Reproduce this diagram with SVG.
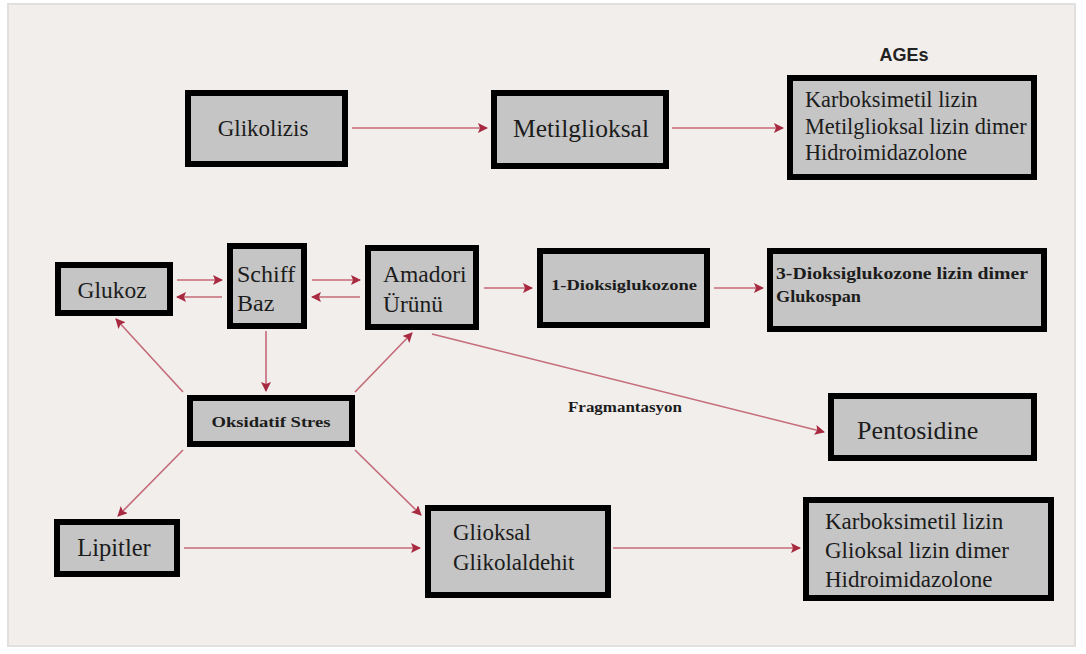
<svg xmlns="http://www.w3.org/2000/svg" width="1086" height="654" viewBox="0 0 1086 654">
<defs>
<marker id="ah" viewBox="0 0 10 10" refX="9" refY="5" markerWidth="10" markerHeight="10" markerUnits="userSpaceOnUse" orient="auto">
<path d="M0,0 L10,5 L0,10 L2,5 z" fill="#a82a40"/>
</marker>
<style>
.box{fill:#c5c5c5;stroke:#000;stroke-width:6}
.t{font-family:'Liberation Serif','Times New Roman',serif;font-weight:normal;fill:#1c1c1c}
.b{font-family:'Liberation Serif','Times New Roman',serif;font-weight:bold;fill:#1c1c1c}
.c{stroke:#c46a78;stroke-width:1.6;fill:none;marker-end:url(#ah)}
</style>
</defs>
<rect x="0" y="0" width="1086" height="654" fill="#ffffff"/>
<rect x="8" y="4" width="1067" height="642" fill="#f1eeec" stroke="#e2e0de" stroke-width="2"/>
<text x="904" y="61" font-family="Liberation Sans, sans-serif" font-weight="bold" font-size="18" fill="#222" text-anchor="middle">AGEs</text>

<g id="connectors">
<line class="c" x1="352" y1="128" x2="487" y2="128"/>
<line class="c" x1="672" y1="128" x2="783" y2="128"/>
<line class="c" x1="177" y1="280" x2="222" y2="280"/>
<line class="c" x1="222" y1="297" x2="177" y2="297"/>
<line class="c" x1="312" y1="280" x2="360" y2="280"/>
<line class="c" x1="360" y1="297" x2="312" y2="297"/>
<line class="c" x1="484" y1="288" x2="532" y2="288"/>
<line class="c" x1="714" y1="288" x2="763" y2="288"/>
<line class="c" x1="183" y1="392" x2="116" y2="319"/>
<line class="c" x1="266" y1="331" x2="266" y2="391"/>
<line class="c" x1="355" y1="392" x2="412" y2="333"/>
<line class="c" x1="183" y1="450" x2="118" y2="516"/>
<line class="c" x1="355" y1="450" x2="421" y2="515"/>
<line class="c" x1="432" y1="334" x2="824" y2="432"/>
<line class="c" x1="184" y1="548" x2="420" y2="548"/>
<line class="c" x1="613" y1="548" x2="800" y2="548"/>
</g>

<g id="glikolizis"><rect class="box" x="188" y="93" width="157" height="71"/><text class="t" x="263" y="136" font-size="23" text-anchor="middle">Glikolizis</text></g>
<g id="metilglioksal"><rect class="box" x="494" y="93" width="172" height="73"/><text class="t" x="581" y="137" font-size="25.5" text-anchor="middle">Metilglioksal</text></g>
<g id="ages-top"><rect class="box" x="790" y="78" width="244" height="99"/>
<text class="t" x="805" y="107" font-size="22.3">Karboksimetil lizin</text>
<text class="t" x="805" y="134" font-size="22.3">Metilglioksal lizin dimer</text>
<text class="t" x="805" y="160" font-size="22.3">Hidroimidazolone</text></g>

<g id="glukoz"><rect class="box" x="58" y="265" width="112" height="48"/><text class="t" x="112" y="298" font-size="23.5" text-anchor="middle">Glukoz</text></g>
<g id="schiff"><rect class="box" x="230" y="246" width="74" height="80"/><text class="t" x="237" y="282" font-size="24">Schiff</text><text class="t" x="237" y="311" font-size="24">Baz</text></g>
<g id="amadori"><rect class="box" x="368" y="248" width="108" height="79"/><text class="t" x="383" y="282" font-size="23.5">Amadori</text><text class="t" x="383" y="312" font-size="23.5">Ürünü</text></g>
<g id="dioksi1"><rect class="box" x="540" y="251" width="167" height="74"/><text class="b" x="551" y="290" font-size="15.5" textLength="146" lengthAdjust="spacingAndGlyphs">1-Dioksiglukozone</text></g>
<g id="dioksi3"><rect class="box" x="770" y="251" width="274" height="78"/><text class="b" x="776" y="279" font-size="16" textLength="252" lengthAdjust="spacingAndGlyphs">3-Dioksiglukozone lizin dimer</text><text class="b" x="776" y="302" font-size="16" textLength="85" lengthAdjust="spacingAndGlyphs">Glukospan</text></g>

<g id="oksidatif"><rect class="box" x="190" y="398" width="162" height="46"/><text class="b" x="271" y="427" font-size="14.5" text-anchor="middle" textLength="119" lengthAdjust="spacingAndGlyphs">Oksidatif Stres</text></g>
<text class="b" x="625" y="412" font-size="14" text-anchor="middle" textLength="114" lengthAdjust="spacingAndGlyphs">Fragmantasyon</text>
<g id="pentosidine"><rect class="box" x="831" y="396" width="203" height="62"/><text class="t" x="857" y="439" font-size="26">Pentosidine</text></g>

<g id="lipitler"><rect class="box" x="57" y="522" width="120" height="52"/><text class="t" x="114" y="556" font-size="24.5" text-anchor="middle">Lipitler</text></g>
<g id="glioksal"><rect class="box" x="428" y="508" width="180" height="87"/><text class="t" x="453" y="540" font-size="23">Glioksal</text><text class="t" x="453" y="570" font-size="23">Glikolaldehit</text></g>
<g id="ages-bottom"><rect class="box" x="806" y="500" width="245" height="98"/>
<text class="t" x="825" y="529" font-size="23">Karboksimetil lizin</text>
<text class="t" x="825" y="558" font-size="23">Glioksal lizin dimer</text>
<text class="t" x="825" y="587" font-size="23">Hidroimidazolone</text></g>
</svg>
